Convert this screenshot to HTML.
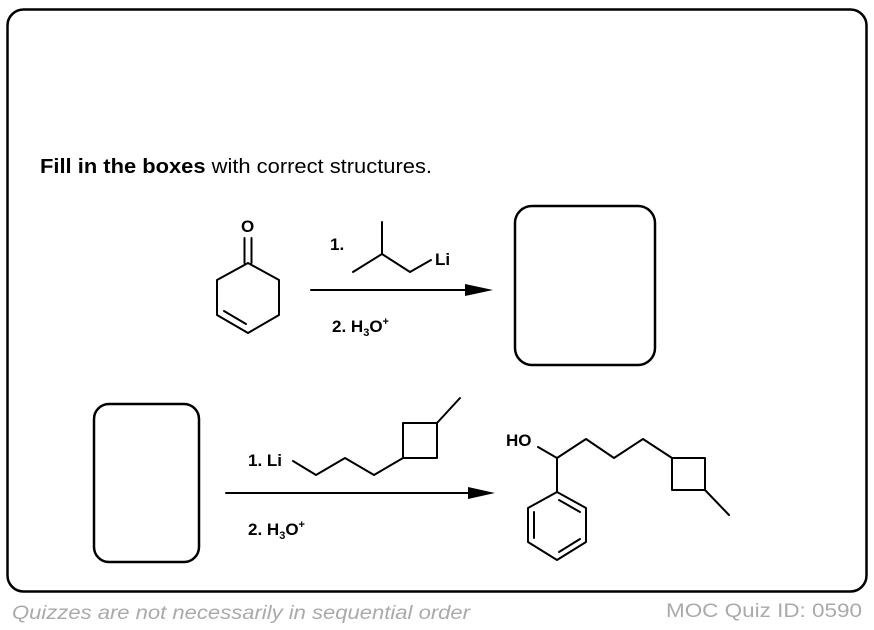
<!DOCTYPE html>
<html><head><meta charset="utf-8"><style>
html,body{margin:0;padding:0;background:#fff;}
svg{display:block;}
text{font-family:"Liberation Sans",Arial,sans-serif;}
</style></head><body>
<svg width="874" height="630" viewBox="0 0 874 630" xmlns="http://www.w3.org/2000/svg">
<rect x="7.5" y="9.5" width="859" height="582" rx="16" fill="none" stroke="#000" stroke-width="2.5"/>
<text x="40" y="173" font-size="20" textLength="392" lengthAdjust="spacingAndGlyphs"><tspan font-weight="bold">Fill in the boxes</tspan> with correct structures.</text>

<g fill="none" stroke="#000" stroke-width="2" stroke-linecap="round" stroke-linejoin="round">
<!-- cyclohexenone -->
<polyline points="248,263 279,280 279,315 248,333 217,315 217,280 248,263"/>
<line x1="224" y1="311" x2="246" y2="324"/>
<line x1="244.5" y1="263" x2="244.5" y2="238"/>
<line x1="251.5" y1="263" x2="251.5" y2="238"/>
<!-- isobutyl Li -->
<polyline points="353,272 382,254 382,222"/>
<polyline points="382,254 410,272 431,260"/>
<!-- arrow 1 -->
<line x1="311" y1="290" x2="470" y2="290"/>
<!-- reagent 2 -->
<polyline points="293,461 316,475 345,458 374,475 403,458"/>
<polygon points="403,458 403,423 437,423 437,458"/>
<line x1="437" y1="423" x2="460" y2="398"/>
<line x1="226" y1="493" x2="472" y2="493"/>
<!-- product -->
<polyline points="538,447 557,458 586,439 614,458 643,439 672,458"/>
<polygon points="672,458 705,458 705,490 672,490"/>
<line x1="705" y1="490" x2="729" y2="515"/>
<line x1="557" y1="458" x2="557" y2="492"/>
<polygon points="557,492 586,508 586,542 557,560 528,542 528,508"/>
<line x1="559" y1="500" x2="580" y2="512"/>
<line x1="534" y1="512" x2="534" y2="538"/>
<line x1="559" y1="552" x2="580" y2="539"/>
<!-- boxes -->
<rect x="515" y="206" width="140" height="159" rx="17" stroke-width="2.5"/>
<rect x="94" y="404" width="105" height="158" rx="15" stroke-width="2.5"/>
</g>
<polygon points="465,284 493,290 465,296" fill="#000"/>
<polygon points="468,487 495,493 468,499" fill="#000"/>

<g font-weight="bold" font-size="17">
<text x="241" y="232">O</text>
<text x="330" y="250">1.</text>
<text x="435" y="265">Li</text>
<text x="332" y="332">2. H<tspan font-size="11" dy="4">3</tspan><tspan dy="-4">O</tspan><tspan font-size="11" dy="-7">+</tspan></text>
<text x="248" y="466">1. Li</text>
<text x="248" y="535">2. H<tspan font-size="11" dy="4">3</tspan><tspan dy="-4">O</tspan><tspan font-size="11" dy="-7">+</tspan></text>
<text x="506" y="446">HO</text>
</g>

<text x="12" y="619" font-size="19" font-style="italic" fill="#aaa" textLength="458" lengthAdjust="spacingAndGlyphs">Quizzes are not necessarily in sequential order</text>
<text x="666" y="617" font-size="19" fill="#aaa" textLength="196" lengthAdjust="spacingAndGlyphs">MOC Quiz ID: 0590</text>
</svg>
</body></html>
